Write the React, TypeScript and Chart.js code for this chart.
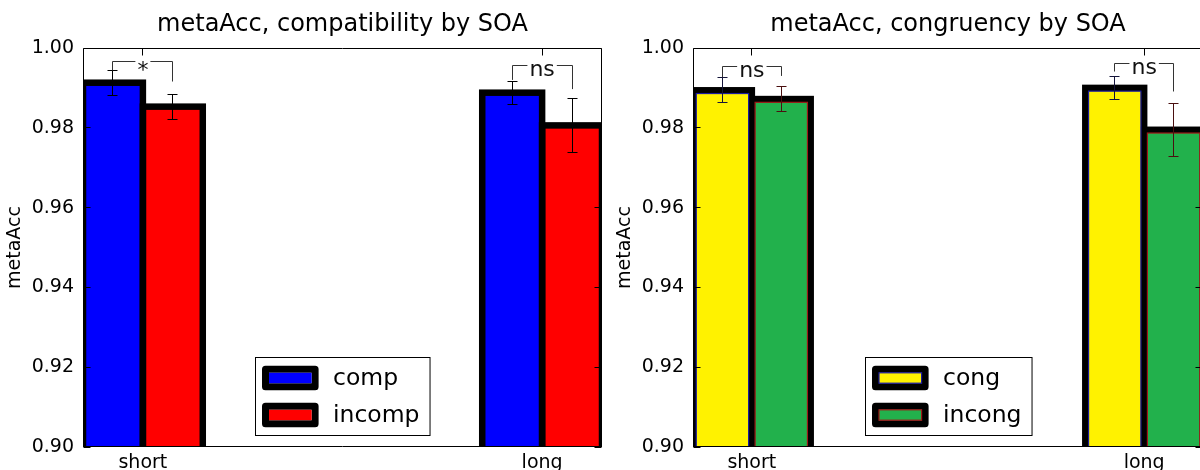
import React, { useEffect, useRef } from "react";
import { Chart, registerables } from "chart.js";

Chart.register(...registerables);

// ---------- data ----------
const categories = ["short", "long"];
const yTickValues = [0.9, 0.92, 0.94, 0.96, 0.98, 1.0];

// left panel: compatibility by SOA
const compMeans = [0.9913, 0.9888];
const compErrors = [0.0031, 0.0029];
const incompMeans = [0.9853, 0.9806];
const incompErrors = [0.0031, 0.0067];
const compSigLabels = ["*", "ns"];
const compSigTops = [0.9966, 0.9956];
const compSigLeftEnds = [0.9944, 0.992];
const compSigRightEnds = [0.9916, 0.9897];

// right panel: congruency by SOA
const congMeans = [0.9894, 0.99];
const congErrors = [0.0031, 0.0028];
const incongMeans = [0.9872, 0.9795];
const incongErrors = [0.0031, 0.0067];
const congSigLabels = ["ns", "ns"];
const congSigTops = [0.9954, 0.9961];
const congSigLeftEnds = [0.9927, 0.9941];
const congSigRightEnds = [0.993, 0.9891];

// ---------- styling ----------
const FONT = "'DejaVu Sans', 'Bitstream Vera Sans', sans-serif";
const EDGE = 6.5;
const TICK_LEN = 7;

type Series = {
  label: string;
  means: number[];
  errors: number[];
  fill: string;
  innerEdge?: string;
  errColor: string;
};

type PanelProps = {
  title: string;
  series: Series[];
  sigLabels: string[];
  sigTops: number[];
  sigLeft: number[];
  sigRight: number[];
  left: number;
  width: number;
  padRight: number;
};

const crisp = (v: number) => Math.round(v - 0.5) + 0.5;

function makeDecorPlugin(p: PanelProps) {
  return {
    id: "mplDecor",
    afterDatasetsDraw(chart: any) {
      const { ctx, chartArea: a, scales } = chart;
      const xs = scales.x;
      const ys = scales.y;
      const metas = p.series.map((_, i) => chart.getDatasetMeta(i));

      // bar edges (matplotlib style: centred thick black edge)
      ctx.save();
      ctx.beginPath();
      ctx.rect(a.left, a.top, a.right - a.left, a.bottom - a.top);
      ctx.clip();
      ctx.strokeStyle = "#000";
      ctx.lineWidth = EDGE;
      ctx.lineJoin = "miter";
      metas.forEach((m: any) =>
        m.data.forEach((el: any) => {
          const { x, y, base, width } = el.getProps(["x", "y", "base", "width"], true);
          ctx.strokeRect(x - width / 2, y, width, base - y);
        })
      );
      p.series.forEach((s, si) => {
        if (!s.innerEdge) return;
        ctx.strokeStyle = s.innerEdge;
        ctx.lineWidth = 1.2;
        metas[si].data.forEach((el: any) => {
          const { x, y, base, width } = el.getProps(["x", "y", "base", "width"], true);
          ctx.strokeRect(x - width / 2 + EDGE / 2, y + EDGE / 2, width - EDGE, base - y - EDGE);
        });
      });

      // error bars
      p.series.forEach((s, si) => {
        ctx.strokeStyle = s.errColor;
        ctx.lineWidth = 1;
        metas[si].data.forEach((el: any, i: number) => {
          const cx = crisp(el.x);
          const yt = crisp(ys.getPixelForValue(s.means[i] + s.errors[i]));
          const yb = crisp(ys.getPixelForValue(s.means[i] - s.errors[i]));
          ctx.beginPath();
          ctx.moveTo(cx, yt);
          ctx.lineTo(cx, yb);
          ctx.moveTo(cx - 5, yt);
          ctx.lineTo(cx + 5, yt);
          ctx.moveTo(cx - 5, yb);
          ctx.lineTo(cx + 5, yb);
          ctx.stroke();
        });
      });

      // significance brackets
      categories.forEach((_, i) => {
        const x0 = crisp(metas[0].data[i].x);
        const x1 = crisp(metas[1].data[i].x);
        const yt = crisp(ys.getPixelForValue(p.sigTops[i]));
        const yl = ys.getPixelForValue(p.sigLeft[i]);
        const yr = ys.getPixelForValue(p.sigRight[i]);
        ctx.strokeStyle = "#333";
        ctx.lineWidth = 1;
        ctx.beginPath();
        ctx.moveTo(x0, yl);
        ctx.lineTo(x0, yt);
        ctx.lineTo(x1, yt);
        ctx.lineTo(x1, yr);
        ctx.stroke();
        const label = p.sigLabels[i];
        ctx.font = `22px ${FONT}`;
        const mt = ctx.measureText(label);
        const tw = mt.width;
        const cx = xs.getPixelForValue(i);
        ctx.fillStyle = "#fff";
        ctx.fillRect(cx - tw / 2 - 2, yt - 2, tw + 4, 4);
        ctx.fillStyle = "#111";
        ctx.textAlign = "center";
        ctx.textBaseline = "alphabetic";
        const glyphMid = (mt.actualBoundingBoxAscent - mt.actualBoundingBoxDescent) / 2;
        ctx.fillText(label, cx, yt + 4 + glyphMid);
      });
      ctx.restore();

      // spines + inward ticks
      ctx.save();
      ctx.strokeStyle = "#000";
      ctx.lineWidth = 1;
      const L = a.left + 0.5, R = a.right - 0.5, T = a.top + 0.5, B = a.bottom - 0.5;
      ctx.beginPath();
      ctx.rect(L, T, R - L, B - T);
      yTickValues.forEach((v) => {
        const py = crisp(ys.getPixelForValue(v));
        ctx.moveTo(L, py);
        ctx.lineTo(L + TICK_LEN, py);
        ctx.moveTo(R, py);
        ctx.lineTo(R - TICK_LEN, py);
      });
      categories.forEach((_, i) => {
        const px = crisp(xs.getPixelForValue(i));
        ctx.moveTo(px, T);
        ctx.lineTo(px, T + TICK_LEN);
        ctx.moveTo(px, B);
        ctx.lineTo(px, B - TICK_LEN);
      });
      ctx.stroke();
      ctx.restore();

      // legend (lower centre)
      ctx.save();
      const fontL = `23.5px ${FONT}`;
      ctx.font = fontL;
      const textW = Math.max(...p.series.map((s) => ctx.measureText(s.label).width));
      const padL = 6.5, handleW = 56.6, handleH = 24.4, gap = 14.4, padR = 10.5, rowH = 37, padV = 8.3;
      const boxW = padL + handleW + gap + textW + padR;
      const boxH = padV * 2 + handleH + rowH * (p.series.length - 1);
      const bx = Math.round((a.left + a.right) / 2 - boxW / 2) + 0.5;
      const by = Math.round(a.bottom - 12 - boxH) + 0.5;
      ctx.fillStyle = "#fff";
      ctx.fillRect(bx, by, boxW, boxH);
      ctx.strokeStyle = "#000";
      ctx.lineWidth = 1;
      ctx.strokeRect(bx, by, boxW, boxH);
      p.series.forEach((s, r) => {
        const hx = bx + padL;
        const hy = by + padV + r * rowH;
        ctx.strokeStyle = "#000";
        ctx.lineWidth = 7;
        ctx.lineJoin = "round";
        ctx.strokeRect(hx + 3.5, hy + 3.5, handleW - 7, handleH - 7);
        ctx.fillStyle = s.fill;
        ctx.fillRect(hx + 7, hy + 7, handleW - 14, handleH - 14);
        if (s.innerEdge) {
          ctx.strokeStyle = s.innerEdge;
          ctx.lineWidth = 1.2;
          ctx.lineJoin = "miter";
          ctx.strokeRect(hx + 7, hy + 7, handleW - 14, handleH - 14);
        }
        ctx.fillStyle = "#000";
        ctx.font = fontL;
        ctx.textAlign = "left";
        ctx.textBaseline = "alphabetic";
        ctx.fillText(s.label, hx + handleW + gap, hy + handleH / 2 + 6.6);
      });
      ctx.restore();
    },
  };
}

function Panel(p: PanelProps) {
  const ref = useRef<HTMLCanvasElement | null>(null);
  useEffect(() => {
    if (!ref.current) return;
    const chart = new Chart(ref.current, {
      type: "bar",
      data: {
        datasets: p.series.map((s) => ({
          label: s.label,
          data: s.means.map((v, i) => ({ x: i, y: v })),
          backgroundColor: s.fill,
          borderWidth: 0,
          categoryPercentage: 0.3,
          barPercentage: 1.0,
        })),
      },
      options: {
        animation: false,
        responsive: false,
        devicePixelRatio: 1,
        layout: { padding: { left: 0, right: p.padRight, top: 0, bottom: 0 } },
        plugins: {
          legend: { display: false },
          tooltip: { enabled: false },
          title: {
            display: true,
            text: p.title,
            fullSize: false,
            color: "#000",
            font: { family: FONT, size: 24, weight: "normal" },
            padding: { top: 10, bottom: 9.2 },
          },
        },
        scales: {
          x: {
            type: "linear",
            min: -0.15,
            max: 1.15,
            offset: false,
            afterBuildTicks: (s: any) => {
              s.ticks = categories.map((_, i) => ({ value: i }));
            },
            afterFit: (s: any) => {
              s.height = 23;
            },
            grid: { display: false, drawTicks: false, offset: false },
            border: { display: false },
            ticks: {
              padding: 5,
              autoSkip: false,
              maxRotation: 0,
              color: "#000",
              font: { family: FONT, size: 19 },
              callback: (v: any) => categories[Number(v)] ?? "",
            },
          },
          y: {
            type: "linear",
            min: 0.9,
            max: 1.0,
            afterBuildTicks: (s: any) => {
              s.ticks = yTickValues.map((v) => ({ value: v }));
            },
            afterFit: (s: any) => {
              s.width = 83;
            },
            grid: { display: false, drawTicks: false },
            border: { display: false },
            ticks: {
              padding: 9,
              color: "#000",
              font: { family: FONT, size: 19 },
              callback: (v: any) => Number(v).toFixed(2),
            },
            title: {
              display: true,
              text: "metaAcc",
              color: "#000",
              font: { family: FONT, size: 19 },
              padding: { top: 4, bottom: 0 },
            },
          },
        },
      },
      plugins: [makeDecorPlugin(p)],
    } as any);
    return () => chart.destroy();
  }, []);
  return (
    <canvas
      ref={ref}
      width={p.width}
      height={470}
      style={{ position: "absolute", left: p.left, top: 0, width: p.width, height: 470 }}
    />
  );
}

export default function App() {
  const compSeries: Series[] = [
    { label: "comp", means: compMeans, errors: compErrors, fill: "#0000ff", errColor: "#000" },
    { label: "incomp", means: incompMeans, errors: incompErrors, fill: "#ff0000", errColor: "#000" },
  ];
  const congSeries: Series[] = [
    { label: "cong", means: congMeans, errors: congErrors, fill: "#fff200", innerEdge: "#1a1aa0", errColor: "#15153a" },
    { label: "incong", means: incongMeans, errors: incongErrors, fill: "#22b14c", innerEdge: "#a01818", errColor: "#4a1010" },
  ];
  return (
    <div
      style={{
        position: "fixed",
        left: 0,
        top: 0,
        width: 1200,
        height: 470,
        overflow: "hidden",
        background: "#fff",
      }}
    >
      <Panel
        title="metaAcc, compatibility by SOA"
        series={compSeries}
        sigLabels={compSigLabels}
        sigTops={compSigTops}
        sigLeft={compSigLeftEnds}
        sigRight={compSigRightEnds}
        left={0}
        width={610}
        padRight={8}
      />
      <Panel
        title="metaAcc, congruency by SOA"
        series={congSeries}
        sigLabels={congSigLabels}
        sigTops={congSigTops}
        sigLeft={congSigLeftEnds}
        sigRight={congSigRightEnds}
        left={610}
        width={610}
        padRight={17}
      />
    </div>
  );
}
